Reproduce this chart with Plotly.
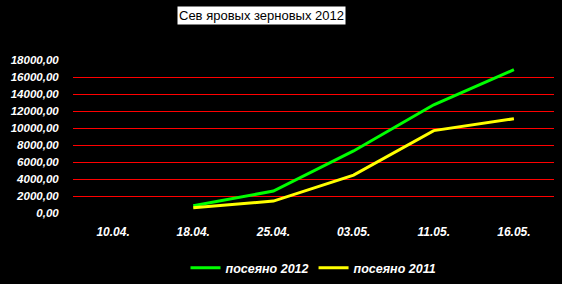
import plotly.graph_objects as go

categories = ["10.04.", "18.04.", "25.04.", "03.05.", "11.05.", "16.05."]
sown_2012 = [None, 850, 2580, 7300, 12730, 16860]
sown_2011 = [None, 620, 1400, 4450, 9690, 11090]
y_ticks = [0, 2000, 4000, 6000, 8000, 10000, 12000, 14000, 16000, 18000]
y_tick_labels = ["0,00", "2000,00", "4000,00", "6000,00", "8000,00", "10000,00",
                 "12000,00", "14000,00", "16000,00", "18000,00"]

FONT = "Liberation Sans, Arial, sans-serif"

fig = go.Figure()
fig.add_trace(go.Scatter(x=categories, y=sown_2012, mode="lines", name="посеяно 2012",
                         line=dict(color="#00ff00", width=3)))
fig.add_trace(go.Scatter(x=categories, y=sown_2011, mode="lines", name="посеяно 2011",
                         line=dict(color="#ffff00", width=3)))

fig.update_layout(
    width=562, height=284,
    paper_bgcolor="black", plot_bgcolor="black",
    margin=dict(l=73, r=8, t=60, b=71, autoexpand=False),
    font=dict(family=FONT, color="white", size=12),
    xaxis=dict(type="category", range=[-0.5, 5.5], showgrid=False, zeroline=False,
               showline=False, ticks="outside", ticklen=8, tickcolor="black",
               tickfont=dict(family=FONT, size=12, color="white", weight="bold", style="italic"),
               automargin=False),
    yaxis=dict(range=[0, 18000], tickvals=y_ticks, ticktext=y_tick_labels,
               showgrid=True, gridcolor="#ff0000", gridwidth=1, zeroline=False,
               showline=False, ticks="outside", ticklen=11, tickcolor="black",
               tickfont=dict(family=FONT, size=11.5, color="white", weight="bold", style="italic"),
               automargin=False),
    showlegend=True,
    legend=dict(orientation="h", x=0.5, xanchor="center", y=-0.36, yanchor="middle",
                bgcolor="rgba(0,0,0,0)",
                font=dict(family=FONT, size=12.5, color="white", weight="bold", style="italic"),
                itemwidth=30, tracegroupgap=0),
    annotations=[dict(text="Сев яровых зерновых 2012", xref="paper", yref="paper",
                      x=0.391, y=1.29, xanchor="center", yanchor="middle",
                      showarrow=False, bgcolor="white", borderpad=1,
                      font=dict(family=FONT, size=13, color="black"))],
)

fig.add_shape(type="line", xref="paper", yref="y", x0=0, x1=1, y0=0, y1=0,
              line=dict(color="black", width=2))

fig.write_html("out.html")
